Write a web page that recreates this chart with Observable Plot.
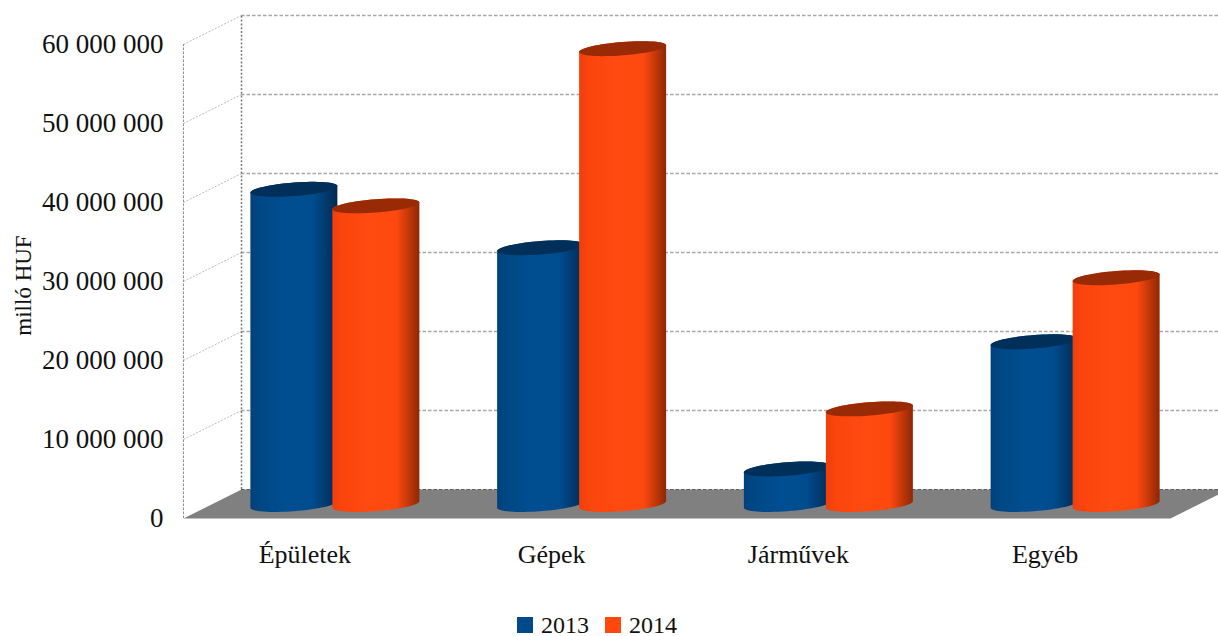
<!DOCTYPE html>
<html lang="hu">
<head>
<meta charset="utf-8">
<script src="https://cdn.jsdelivr.net/npm/d3@7"></script>
<script src="https://cdn.jsdelivr.net/npm/@observablehq/plot@0.6"></script>
<style>
  html, body { margin: 0; padding: 0; background: #fff; overflow: hidden; }
  #chart svg { display: block; }
  #legend { height: 36px; position: relative; font: 24px "Liberation Serif", serif; color: #111; }
  #legend .key { position: absolute; top: 17px; width: 16px; height: 16px; }
  #legend .lab { position: absolute; top: 11px; line-height: 28px; }
</style>
</head>
<body>
<div id="chart"></div>
<div id="legend"></div>
<script>
const categories = ["Épületek", "Gépek", "Járművek", "Egyéb"];
const years = ["2013", "2014"];
const values2013 = [39.9e6, 32.5e6, 4.5e6, 20.6e6];
const values2014 = [37.8e6, 57.7e6, 12.1e6, 28.7e6];
const yTicks = [0, 10e6, 20e6, 30e6, 40e6, 50e6, 60e6];

const formatTick = d => d3.format(",")(d).replace(/,/g, " ");

// Depth of the 3-D box, expressed in data units of each scale
const depthX = 58 / 246.75;
const depthY = 29 / 79 * 10e6;

const rows = categories.map((c, i) => ({ i, c, v13: values2013[i], v14: values2014[i] }));
const cx = d => d.i + 0.5;

// Sheared ellipse used for cylinder ends
const RY = 6.7, SHEAR = 3.3 / 43.5;
const ept = (a, r, l) => {
  const x = r * Math.cos(a);
  return [x, RY * Math.sin(a) - SHEAR * x - l];
};
const cylinderBody = {
  draw(ctx, l, r) {
    const N = 32;
    for (let k = 0; k <= N; k++) {
      const [x, y] = ept(Math.PI - (k / N) * Math.PI, r, 0);
      k ? ctx.lineTo(x, y) : ctx.moveTo(x, y);
    }
    for (let k = 0; k <= N; k++) {
      const [x, y] = ept(-(k / N) * Math.PI, r, l);
      ctx.lineTo(x, y);
    }
    ctx.closePath();
  }
};
const cylinderCap = {
  draw(ctx, l, r) {
    const N = 64;
    for (let k = 0; k <= N; k++) {
      const [x, y] = ept((k / N) * 2 * Math.PI, r, l);
      k ? ctx.lineTo(x, y) : ctx.moveTo(x, y);
    }
    ctx.closePath();
  }
};

const gradients = () => {
  const ns = "http://www.w3.org/2000/svg";
  const defs = document.createElementNS(ns, "defs");
  const add = (id, stops) => {
    const g = document.createElementNS(ns, "linearGradient");
    g.setAttribute("id", id);
    stops.forEach(([o, c]) => {
      const s = document.createElementNS(ns, "stop");
      s.setAttribute("offset", o);
      s.setAttribute("stop-color", c);
      g.appendChild(s);
    });
    defs.appendChild(g);
  };
  add("gBlue", [[0, "#00417b"], [0.12, "#004885"], [0.45, "#004e92"], [0.72, "#004c8d"], [0.88, "#00396c"], [1, "#002a50"]]);
  add("gOrange", [[0, "#ef3f0b"], [0.12, "#fb450d"], [0.45, "#ff4a10"], [0.74, "#fd480e"], [0.88, "#c23709"], [1, "#8d2805"]]);
  return defs;
};

const cylinders = (key, fill, capFill, dx) => [
  Plot.vector(rows, {
    x: cx, y: () => 0, length: d => d[key], r: 43.5, shape: cylinderBody,
    anchor: "start", fill, stroke: "none", dx, dy: -14
  }),
  Plot.vector(rows, {
    x: cx, y: () => 0, length: d => d[key], r: 43.5, shape: cylinderCap,
    anchor: "start", fill: capFill, stroke: "none", dx, dy: -14
  })
];

const plot = Plot.plot({
  width: 1218,
  height: 600,
  marginLeft: 183,
  marginRight: 48,
  marginTop: 44,
  marginBottom: 82,
  style: { fontFamily: '"Liberation Serif", serif', background: "#fff", color: "#111" },
  x: { type: "linear", domain: [0, 4], axis: null },
  y: { domain: [0, 60e6], axis: null },
  length: { domain: [0, 60e6], range: [0, 474] },
  marks: [
    gradients,
    // back wall grid
    Plot.ruleY(yTicks.slice(1), {
      x1: depthX, x2: 4 + depthX + 0.3, y: d => d + depthY,
      stroke: "#a6a6a6", strokeDasharray: "3.5,2", strokeWidth: 1.4
    }),
    // side wall obliques
    Plot.link(yTicks.slice(1), {
      x1: 0, y1: d => d, x2: depthX, y2: d => d + depthY,
      stroke: "#bdbdbd", strokeDasharray: "2,1.5", strokeWidth: 1
    }),
    // wall verticals
    Plot.ruleX([0], { y1: 0, y2: 60e6, stroke: "#8f8f8f", strokeDasharray: "2.5,1.5", strokeWidth: 1 }),
    Plot.ruleX([depthX], { y1: depthY, y2: 60e6 + depthY, stroke: "#777", strokeDasharray: "2,1.8", strokeWidth: 1.5 }),
    // floor
    Plot.line(
      [[0, 0], [depthX, depthY], [4 + depthX, depthY], [4, 0], [0, 0]],
      { x: d => d[0], y: d => d[1], fill: "#808080", stroke: "none", curve: "linear" }
    ),
    Plot.ruleY([depthY], {
      x1: depthX, x2: 4 + depthX, stroke: "#5c5c5c", strokeDasharray: "3.5,2", strokeWidth: 1
    }),
    ...cylinders("v13", "url(#gBlue)", "#002f5a", -13),
    ...cylinders("v14", "url(#gOrange)", "#992a06", 69),
    // axes
    Plot.axisY({
      ticks: yTicks, tickFormat: formatTick, tickSize: 0, tickPadding: 20,
      fontSize: 27, label: null
    }),
    Plot.axisX({
      ticks: categories.map((_, i) => i + 0.5), tickFormat: d => categories[d - 0.5],
      tickSize: 0, tickPadding: 26, fontSize: 26, label: null, dx: -2
    }),
    Plot.text(["milló HUF"], {
      frameAnchor: "left", textAnchor: "middle", rotate: -90, dx: -160, dy: 4, fontSize: 23, fill: "#111"
    })
  ]
});
document.getElementById("chart").appendChild(plot);

// Legend
const legendColors = ["#004a8c", "#ff470e"];
const legend = document.getElementById("legend");
years.forEach((y, i) => {
  const left = 517 + i * 88;
  const k = document.createElement("div");
  k.className = "key";
  k.style.left = left + "px";
  k.style.background = legendColors[i];
  const t = document.createElement("div");
  t.className = "lab";
  t.style.left = left + 24 + "px";
  t.textContent = y;
  legend.append(k, t);
});
</script>
</body>
</html>
